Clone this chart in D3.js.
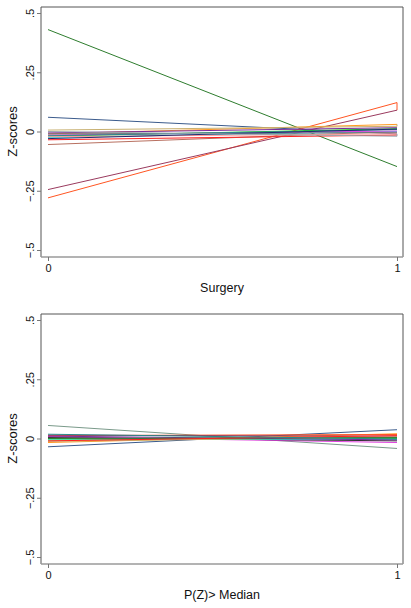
<!DOCTYPE html>
<html><head><meta charset="utf-8">
<script src="https://cdn.jsdelivr.net/npm/d3@7"></script>
<style>body{margin:0;background:#fff}svg{display:block}text{font-family:"Liberation Sans",Arial,sans-serif;fill:#111}</style>
</head><body>
<script>
const yTicks = [0.5, 0.25, 0, -0.25, -0.5];
const yTickLabels = [".5", ".25", "0", "\u2212.25", "\u2212.5"];
const xTicks = [0, 1];
const xTickLabels = ["0", "1"];
const yTitle = "Z-scores";
const xTitles = ["Surgery", "P(Z)> Median"];

// Top panel series: color + points [x, z]
const surgeryColors = ["#2e7d2e","#3b5b8c","#ff5522","#9a3a5e","#b87060","#ff2020","#ff9a20","#20d020","#30d8d8","#e040e0","#7a2a9a","#c8b070","#707070","#2a8a8a","#ff9a9a","#202a70","#9aa4ae"];
const surgeryValues = [
  [[0,0.43],[1,-0.148]],
  [[0,0.06],[1,-0.01]],
  [[0,-0.28],[1,0.122],[1,0.09]],
  [[0,-0.245],[1,0.09]],
  [[0,-0.055],[1,0.0]],
  [[0,-0.035],[1,-0.015]],
  [[0,-0.01],[1,0.03]],
  [[0,-0.02],[1,0.012]],
  [[0,-0.025],[1,0.0]],
  [[0,-0.015],[1,0.002]],
  [[0,-0.006],[1,0.016]],
  [[0,0.006],[1,0.022],[1,0.03]],
  [[0,-0.01],[1,-0.005]],
  [[0,-0.018],[1,0.008]],
  [[0,-0.022],[1,-0.01]],
  [[0,-0.03],[1,0.01]],
  [[0,0.0],[1,-0.02],[1,-0.01]]
];

// Bottom panel series
const medianColors = ["#7a9a8a","#3b5b8c","#ff9a20","#e040e0","#ff5522","#303030","#20d020","#30d8d8","#9a3a5e","#c8b070","#7a2a9a","#2e7d2e","#ff2020","#2a8a8a"];
const medianValues = [
  [[0,0.055],[1,-0.042]],
  [[0,-0.035],[1,0.037]],
  [[0,-0.017],[1,0.02]],
  [[0,0.008],[1,-0.017]],
  [[0,0.012],[1,0.017]],
  [[0,0.004],[1,-0.01]],
  [[0,-0.006],[1,0.0]],
  [[0,-0.002],[1,-0.004]],
  [[0,0.014],[1,0.01]],
  [[0,-0.012],[1,0.006]],
  [[0,0.01],[1,-0.006]],
  [[0,0.0],[1,0.004]],
  [[0,-0.01],[1,0.012]],
  [[0,0.018],[1,-0.002]]
];

const W = 411, H = 608;
const svg = d3.select("body").append("svg").attr("width", W).attr("height", H);

function panel(top, colors, values, xTitle) {
  const box = {x0: 41, x1: 403, y0: top, y1: top + 250};
  const x = d3.scaleLinear().domain([0, 1]).range([48, 397]);
  const y = d3.scaleLinear().domain([-0.5, 0.5]).range([top + 243, top + 6]);
  const g = svg.append("g");
  const line = d3.line().x(d => x(d[0])).y(d => y(d[1]));
  values.forEach((pts, i) => {
    g.append("path").attr("d", line(pts)).attr("fill", "none")
      .attr("stroke", colors[i % colors.length]).attr("stroke-width", 1);
  });
  g.append("path").attr("d", `M${box.x0},${box.y1}V${box.y0}H${box.x1}V${box.y1}`)
    .attr("fill", "none").attr("stroke", "#555").attr("stroke-width", 1);
  g.append("line").attr("x1", box.x0).attr("x2", box.x1).attr("y1", box.y1).attr("y2", box.y1)
    .attr("stroke", "#9a9a9a").attr("stroke-width", 1.6);
  const ya = d3.axisLeft(y).tickValues(yTicks).tickSize(4).tickFormat((d, i) => yTickLabels[i]);
  const yg = g.append("g").attr("transform", `translate(${box.x0},0)`).call(ya);
  yg.select(".domain").remove();
  yg.selectAll(".tick line").attr("stroke", "#777");
  yg.selectAll(".tick text").attr("transform", "rotate(-90)").attr("x", 0).attr("y", -7)
    .attr("dy", 0).attr("text-anchor", "middle").style("font-size", "11px")
    .style("font-family", "Liberation Sans, Arial, sans-serif").attr("fill", "#111");
  const xa = d3.axisBottom(x).tickValues(xTicks).tickSize(4).tickFormat((d, i) => xTickLabels[i]);
  const xg = g.append("g").attr("transform", `translate(0,${box.y1})`).call(xa);
  xg.select(".domain").remove();
  xg.selectAll(".tick line").attr("stroke", "#777");
  xg.selectAll(".tick text").attr("y", 7).style("font-size", "11px")
    .style("font-family", "Liberation Sans, Arial, sans-serif").attr("fill", "#111");
  g.append("text").attr("transform", `translate(17,${y(0)}) rotate(-90)`)
    .attr("text-anchor", "middle").style("font-size", "13px").text(yTitle);
  g.append("text").attr("x", 222).attr("y", box.y1 + 35).attr("text-anchor", "middle")
    .style("font-size", "12.5px").text(xTitle);
}

panel(7, surgeryColors, surgeryValues, xTitles[0]);
panel(314, medianColors, medianValues, xTitles[1]);
</script>
</body></html>
